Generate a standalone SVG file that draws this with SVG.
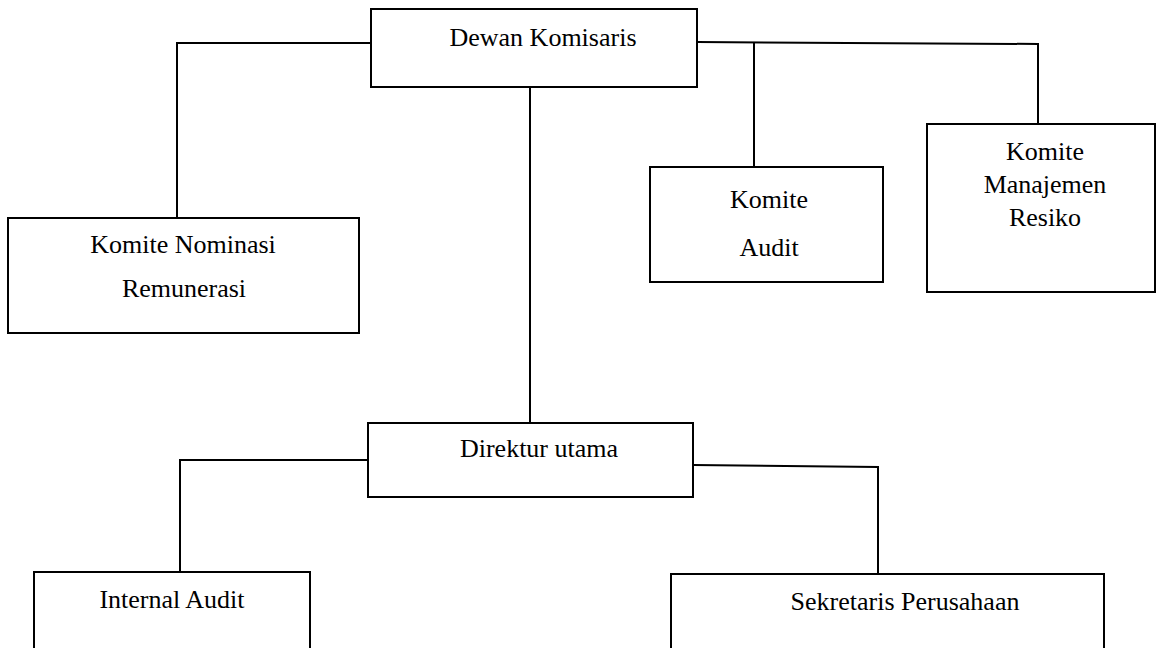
<svg xmlns="http://www.w3.org/2000/svg" width="1164" height="648" viewBox="0 0 1164 648">
  <style>
    .box { fill: #ffffff; stroke: #000000; stroke-width: 2; }
    .link { fill: none; stroke: #000000; stroke-width: 2; }
    .label { font-family: "Liberation Serif", "Times New Roman", serif; font-size: 26px; fill: #000000; text-anchor: middle; }
  </style>
  <rect width="1164" height="648" fill="#ffffff"/>

  <!-- connectors -->
  <g id="connectors">
    <polyline class="link" points="371,43 177,43 177,218"/>
    <line class="link" x1="530" y1="87" x2="530" y2="423"/>
    <polyline class="link" points="697,42 1038,44 1038,124"/>
    <line class="link" x1="754" y1="42" x2="754" y2="167"/>
    <polyline class="link" points="368,460 180,460 180,572"/>
    <polyline class="link" points="693,465 878,467 878,574"/>
  </g>

  <g id="dewan-komisaris">
    <rect class="box" x="371" y="9" width="326" height="78"/>
    <text class="label" x="543" y="46">Dewan Komisaris</text>
  </g>

  <g id="komite-nominasi-remunerasi">
    <rect class="box" x="8" y="218" width="351" height="115"/>
    <text class="label" x="183" y="253">Komite Nominasi</text>
    <text class="label" x="184" y="297">Remunerasi</text>
  </g>

  <g id="komite-audit">
    <rect class="box" x="650" y="167" width="233" height="115"/>
    <text class="label" x="769" y="208">Komite</text>
    <text class="label" x="769" y="256">Audit</text>
  </g>

  <g id="komite-manajemen-resiko">
    <rect class="box" x="927" y="124" width="228" height="168"/>
    <text class="label" x="1045" y="160">Komite</text>
    <text class="label" x="1045" y="193">Manajemen</text>
    <text class="label" x="1045" y="226">Resiko</text>
  </g>

  <g id="direktur-utama">
    <rect class="box" x="368" y="423" width="325" height="74"/>
    <text class="label" x="539" y="457">Direktur utama</text>
  </g>

  <g id="internal-audit">
    <rect class="box" x="34" y="572" width="276" height="100"/>
    <text class="label" x="172" y="608">Internal Audit</text>
  </g>

  <g id="sekretaris-perusahaan">
    <rect class="box" x="671" y="574" width="433" height="100"/>
    <text class="label" x="905" y="610">Sekretaris Perusahaan</text>
  </g>
</svg>
